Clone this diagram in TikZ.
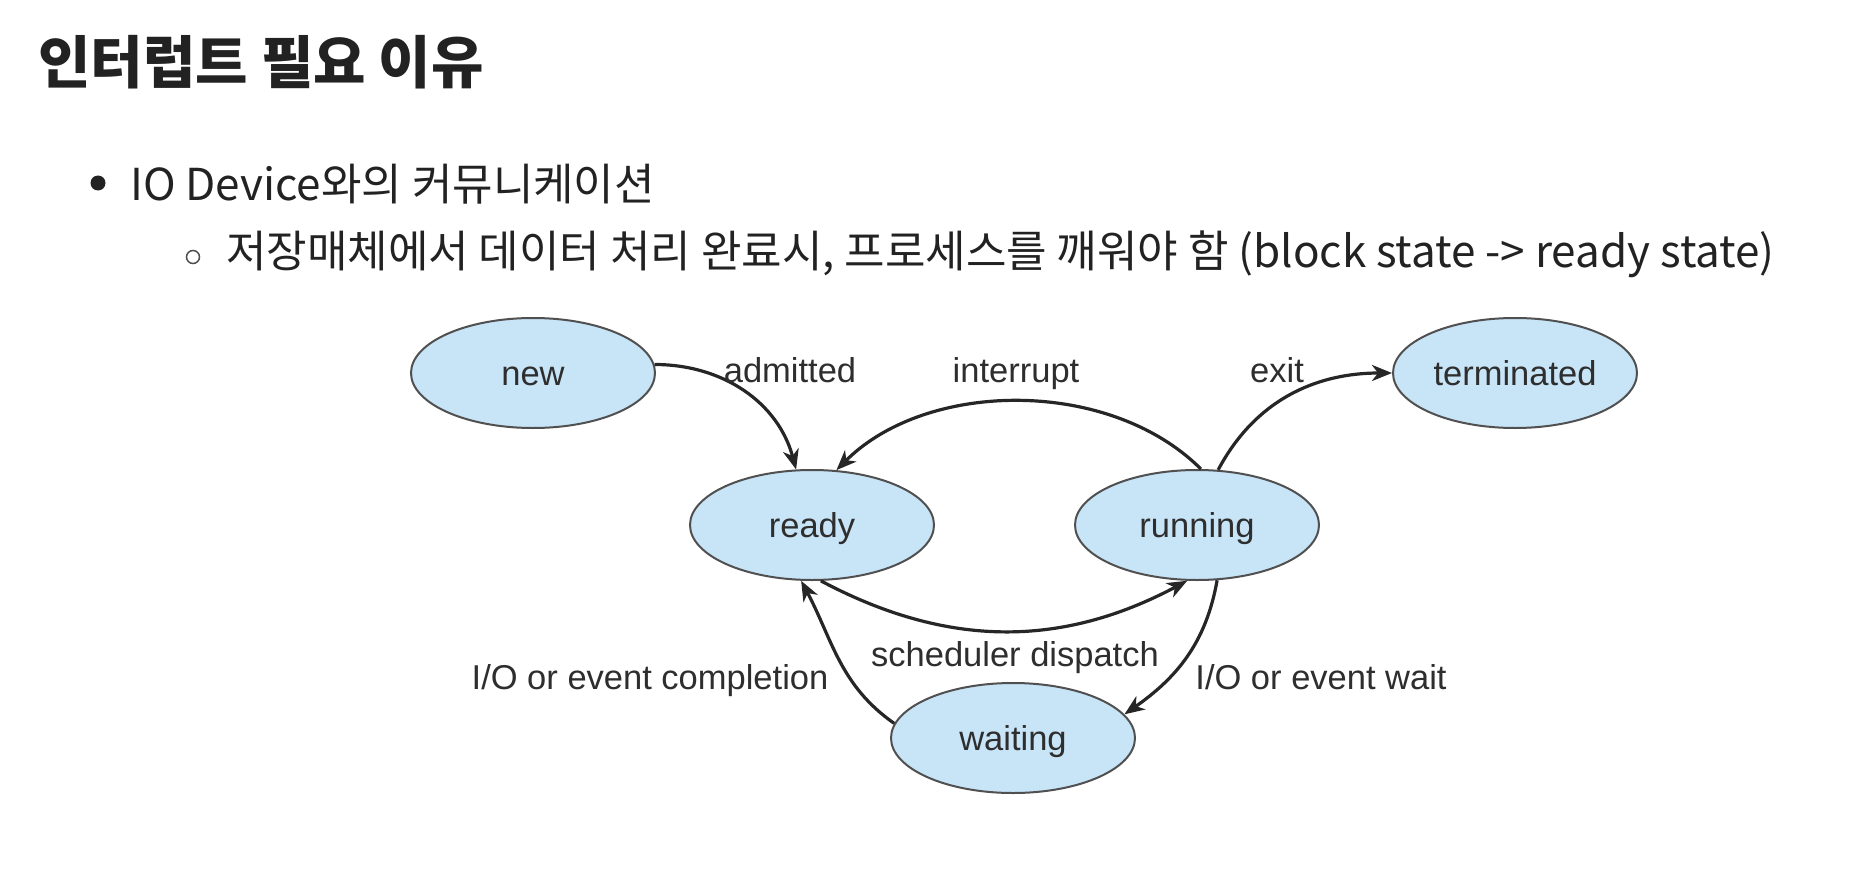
\documentclass[tikz,border=0pt]{standalone}
\usepackage{fontspec}
\setmainfont{Liberation Sans}
\newfontfamily\krfont{Noto Sans CJK KR}
\usetikzlibrary{arrows.meta,shapes.geometric}
\definecolor{nodefill}{HTML}{C8E4F7}
\definecolor{nodedraw}{HTML}{505050}
\definecolor{txt}{HTML}{2E2E2E}
\definecolor{titlecol}{HTML}{222222}
\begin{document}
\begin{tikzpicture}[x=1pt,y=1pt,
  state/.style={ellipse, draw=nodedraw, line width=2pt, fill=nodefill,
    minimum width=244pt, minimum height=110pt, inner sep=0pt,
    text height=28pt, text depth=4pt,
    font=\fontsize{34.5}{40}\selectfont, text=txt},
  lbl/.style={font=\fontsize{34.5}{40}\selectfont, text=txt, inner sep=0pt, anchor=base},
  arr/.style={-{Stealth[length=20pt,width=16pt,inset=6pt]}, line width=3.2pt, draw=black!85},
  body/.style={font=\krfont\fontsize{44}{52}\selectfont, text=titlecol, inner sep=0pt, anchor=west}]
\useasboundingbox (0,0) rectangle (1872,-872);
\fill[white] (0,0) rectangle (1872,-872);

% heading and bullets
\node[font=\krfont\bfseries\fontsize{57}{65}\selectfont, text=titlecol, inner sep=0pt, anchor=west] (title) at (38,-62) {인터럽트 필요 이유};
\fill[titlecol] (98,-183) circle (7.5pt);
\node[body] (b1) at (130,-184) {IO Device와의 커뮤니케이션};
\draw[titlecol!80, line width=1.5pt] (193,-257) circle (6.5pt);
\node[body] (b2) at (226,-254) {저장매체에서 데이터 처리 완료시, 프로세스를 깨워야 함 (block state -> ready state)};

% states
\node[state] (new) at (533,-373) {new};
\node[state] (ready) at (812,-525) {ready};
\node[state] (running) at (1197,-525) {running};
\node[state] (terminated) at (1515,-373) {terminated};
\node[state] (waiting) at (1013,-738) {waiting};

% transitions
\draw[arr] (new.4) to[out=0, in=105] (ready.106);
\draw[arr] (running.86) to[out=135, in=45, looseness=0.9] (ready.66);
\draw[arr] (running.69) to[out=62, in=180] (terminated.west);
\draw[arr] (ready.-81) to[out=-28, in=-152] (running.-100);
\draw[arr] (waiting.173) to[out=145, in=-62] (ready.-101);
\draw[arr] (running.-70) to[out=-100, in=35] (waiting.12);

% labels
\node[lbl] (ladm) at (790,-382) {admitted};
\node[lbl] (lint) at (1016,-382) {interrupt};
\node[lbl] (lexit) at (1277,-382) {exit};
\node[lbl] (lsch) at (1015,-666) {scheduler dispatch};
\node[lbl] (lcomp) at (650,-689) {I/O or event completion};
\node[lbl] (lwait) at (1321,-689) {I/O or event wait};
\end{tikzpicture}
\end{document}
